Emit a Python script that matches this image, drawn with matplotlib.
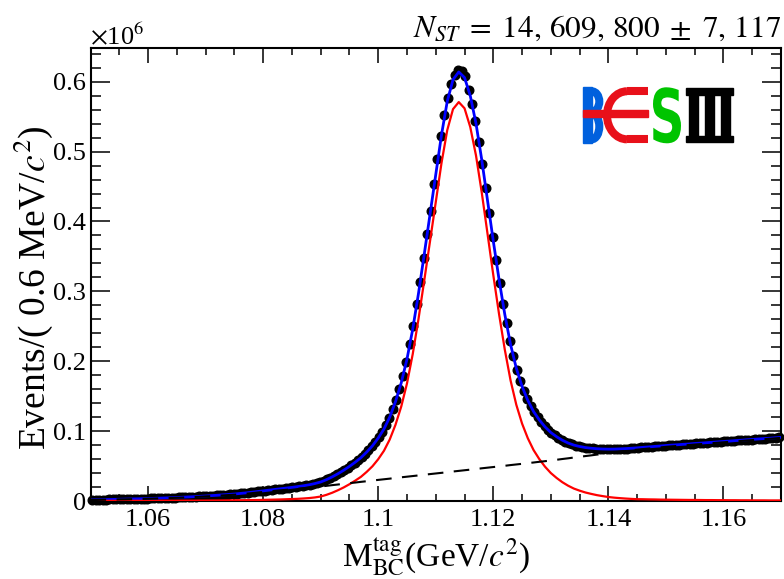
import numpy as np
import matplotlib
matplotlib.use('Agg')
import matplotlib.pyplot as plt
from matplotlib.patches import Rectangle, Arc, PathPatch
from matplotlib.textpath import TextPath
from matplotlib.font_manager import FontProperties
from matplotlib.transforms import Affine2D
from matplotlib.ticker import MultipleLocator, FormatStrFormatter

plt.rcParams['font.family'] = ['Liberation Serif', 'DejaVu Serif']
plt.rcParams['mathtext.fontset'] = 'stix'

# data: events per 0.6 MeV bin (units of 10^6), first bin centre 1.0503 GeV
events = [
    0.0016, 0.0017, 0.0018, 0.0019, 0.0020, 0.0022, 0.0023, 0.0024, 0.0025, 0.0026,
    0.0028, 0.0029, 0.0030, 0.0031, 0.0032, 0.0034, 0.0035, 0.0036, 0.0038, 0.0040,
    0.0042, 0.0044, 0.0046, 0.0047, 0.0049, 0.0051, 0.0054, 0.0056, 0.0058, 0.0061,
    0.0064, 0.0066, 0.0070, 0.0072, 0.0076, 0.0078, 0.0082, 0.0085, 0.0089, 0.0092,
    0.0096, 0.0099, 0.0104, 0.0109, 0.0114, 0.0119, 0.0124, 0.0130, 0.0136, 0.0142,
    0.0148, 0.0154, 0.0160, 0.0166, 0.0172, 0.0178, 0.0184, 0.0190, 0.0196, 0.0203,
    0.0210, 0.0217, 0.0225, 0.0234, 0.0245, 0.0257, 0.0270, 0.0288, 0.0309, 0.0333,
    0.0358, 0.0386, 0.0415, 0.0446, 0.0479, 0.0513, 0.0549, 0.0588, 0.0628, 0.0676,
    0.0727, 0.0781, 0.0845, 0.0913, 0.0991, 0.1081, 0.1183, 0.1310, 0.1447, 0.1609,
    0.1792, 0.1996, 0.2245, 0.2511, 0.2817, 0.3138, 0.3474, 0.3815, 0.4157, 0.4540,
    0.4890, 0.5220, 0.5520, 0.5770, 0.5970, 0.6100, 0.6170, 0.6150, 0.6080, 0.5878,
    0.5680, 0.5440, 0.5140, 0.4822, 0.4474, 0.4126, 0.3778, 0.3445, 0.3120, 0.2820,
    0.2541, 0.2283, 0.2070, 0.1874, 0.1718, 0.1580, 0.1460, 0.1360, 0.1268, 0.1196,
    0.1130, 0.1070, 0.1020, 0.0974, 0.0938, 0.0905, 0.0875, 0.0850, 0.0827, 0.0809,
    0.0794, 0.0782, 0.0773, 0.0764, 0.0758, 0.0753, 0.0749, 0.0746, 0.0744, 0.0743,
    0.0742, 0.0743, 0.0744, 0.0746, 0.0749, 0.0751, 0.0754, 0.0758, 0.0762, 0.0766,
    0.0770, 0.0773, 0.0777, 0.0782, 0.0785, 0.0789, 0.0793, 0.0797, 0.0800, 0.0803,
    0.0807, 0.0810, 0.0813, 0.0817, 0.0821, 0.0824, 0.0827, 0.0831, 0.0835, 0.0838,
    0.0842, 0.0845, 0.0849, 0.0852, 0.0856, 0.0859, 0.0863, 0.0866, 0.0870, 0.0874,
    0.0877, 0.0880, 0.0884, 0.0888, 0.0891, 0.0894, 0.0897, 0.0901, 0.0906, 0.0909,
]

# fit components (units of 10^6), 1 MeV steps from 1.050 to 1.170
signal = [
    0.0002, 0.0002, 0.0002, 0.0002, 0.0002, 0.0002, 0.0003, 0.0003, 0.0003, 0.0003,
    0.0003, 0.0003, 0.0004, 0.0004, 0.0004, 0.0004, 0.0005, 0.0005, 0.0005, 0.0006,
    0.0006, 0.0007, 0.0007, 0.0008, 0.0009, 0.0010, 0.0011, 0.0012, 0.0013, 0.0014,
    0.0016, 0.0018, 0.0020, 0.0022, 0.0025, 0.0028, 0.0031, 0.0036, 0.0042, 0.0051,
    0.0064, 0.0088, 0.0118, 0.0154, 0.0194, 0.0240, 0.0291, 0.0346, 0.0417, 0.0497,
    0.0598, 0.0719, 0.0880, 0.1090, 0.1351, 0.1682, 0.2103, 0.2604, 0.3154, 0.3715,
    0.4276, 0.4837, 0.5308, 0.5608, 0.5709, 0.5620, 0.5351, 0.4942, 0.4412, 0.3823,
    0.3234, 0.2675, 0.2166, 0.1726, 0.1377, 0.1108, 0.0898, 0.0729, 0.0599, 0.0490,
    0.0400, 0.0330, 0.0269, 0.0219, 0.0178, 0.0148, 0.0122, 0.0102, 0.0084, 0.0070,
    0.0057, 0.0048, 0.0041, 0.0035, 0.0030, 0.0026, 0.0025, 0.0023, 0.0022, 0.0020,
    0.0019, 0.0018, 0.0017, 0.0016, 0.0015, 0.0015, 0.0014, 0.0013, 0.0013, 0.0012,
    0.0012, 0.0011, 0.0011, 0.0010, 0.0010, 0.0009, 0.0009, 0.0009, 0.0008, 0.0008, 0.0008,
]
background = [
    0.0013, 0.0015, 0.0017, 0.0019, 0.0021, 0.0023, 0.0024, 0.0026, 0.0028, 0.0030,
    0.0032, 0.0035, 0.0037, 0.0040, 0.0043, 0.0046, 0.0049, 0.0053, 0.0057, 0.0061,
    0.0066, 0.0070, 0.0075, 0.0080, 0.0085, 0.0090, 0.0097, 0.0104, 0.0112, 0.0121,
    0.0129, 0.0137, 0.0145, 0.0153, 0.0160, 0.0167, 0.0175, 0.0182, 0.0190, 0.0199,
    0.0208, 0.0217, 0.0227, 0.0236, 0.0246, 0.0255, 0.0264, 0.0274, 0.0283, 0.0293,
    0.0302, 0.0311, 0.0320, 0.0330, 0.0339, 0.0348, 0.0357, 0.0366, 0.0376, 0.0385,
    0.0394, 0.0403, 0.0412, 0.0422, 0.0431, 0.0440, 0.0449, 0.0458, 0.0468, 0.0477,
    0.0486, 0.0495, 0.0504, 0.0514, 0.0523, 0.0532, 0.0542, 0.0551, 0.0561, 0.0570,
    0.0580, 0.0590, 0.0601, 0.0611, 0.0622, 0.0632, 0.0643, 0.0653, 0.0664, 0.0674,
    0.0685, 0.0695, 0.0705, 0.0715, 0.0725, 0.0735, 0.0743, 0.0751, 0.0759, 0.0767,
    0.0775, 0.0782, 0.0788, 0.0795, 0.0801, 0.0808, 0.0814, 0.0821, 0.0827, 0.0834,
    0.0840, 0.0846, 0.0853, 0.0859, 0.0866, 0.0872, 0.0878, 0.0884, 0.0890, 0.0897, 0.0903,
]

bins = 1.0503 + 0.0006 * np.arange(len(events))
mass = 1.050 + 0.001 * np.arange(len(signal))
signal = np.array(signal)
background = np.array(background)
total = signal + background

fig = plt.figure(figsize=(7.84, 5.79), dpi=100)
ax = fig.add_axes([90.5 / 784, 78 / 579, 690.5 / 784, 453.5 / 579])

ax.plot(bins, events, 'o', color='black', ms=6.2, clip_on=False, zorder=2)
ax.plot(mass, total, color='blue', lw=2.0, zorder=3)
ax.plot(mass, signal, color='red', lw=1.6, zorder=4)
ax.plot(mass, background, color='black', lw=1.5, ls=(0, (7.5, 5)), zorder=5)

ax.set_xlim(1.05, 1.17)
ax.set_ylim(0, 0.649)
ax.xaxis.set_major_locator(MultipleLocator(0.02))
ax.xaxis.set_minor_locator(MultipleLocator(0.005))
ax.yaxis.set_major_locator(MultipleLocator(0.1))
ax.yaxis.set_minor_locator(MultipleLocator(0.02))
ax.xaxis.set_major_formatter(FormatStrFormatter('%g'))
ax.yaxis.set_major_formatter(FormatStrFormatter('%g'))
ax.tick_params(which='both', direction='in', top=True, right=True, width=1.1, labelsize=19)
ax.tick_params(axis='y', which='major', length=14, pad=3)
ax.tick_params(axis='y', which='minor', length=7)
ax.tick_params(axis='x', which='major', length=11, pad=6)
ax.tick_params(axis='x', which='minor', length=5)
for s in ax.spines.values():
    s.set_linewidth(1.5)

ax.set_xlabel(r'M$_{\rm BC}^{\rm tag}$(GeV/$c^{2}$)', fontsize=24)
ax.xaxis.set_label_coords(0.5, -0.075)
ax.set_ylabel(r'Events/( 0.6 MeV/$c^{2}$)', fontsize=27)
ax.yaxis.set_label_coords(-0.052, 0.47)

fig.text(90.5 / 784, 1 - 44 / 579, r'$\times$10$^{6}$', fontsize=19, ha='left', va='baseline')
fig.text(781 / 784, 1 - 37 / 579, r'$N_{ST}\;=\;14,\,609,\,800\;\pm\;7,\,117$', fontsize=22.5,
         ha='right', va='baseline')

# BESIII logo, drawn in pixel units
lax = fig.add_axes([578 / 784, (579 - 146) / 579, 160 / 784, 66 / 579])
lax.set_xlim(0, 160)
lax.set_ylim(0, 66)
lax.axis('off')
blue_c, red_c, green_c = '#0060dd', '#e8101a', '#00c400'
lax.add_patch(Rectangle((5.3, 2.7), 8.4, 56, color=blue_c))
lax.add_patch(Arc((13.7, 44.5), 15.2, 20.4, theta1=-90, theta2=90, lw=5.8, color=blue_c))
lax.add_patch(Arc((13.7, 19.5), 15.2, 25.6, theta1=-90, theta2=90, lw=5.8, color=blue_c))
lax.add_patch(Arc((49, 30.7), 40, 48, theta1=90, theta2=270, lw=5.8, color=red_c))
lax.plot([49, 70], [54.7, 54.7], color=red_c, lw=5.8, solid_capstyle='butt')
lax.plot([49, 70], [6.7, 6.7], color=red_c, lw=5.8, solid_capstyle='butt')
lax.add_patch(Rectangle((5.3, 29), 64.7, 7, color=red_c))
tp = TextPath((0, 0), 'S', size=10, prop=FontProperties(family='DejaVu Sans', weight='bold'))
bb = tp.get_extents()
tr = Affine2D().translate(-bb.x0, -bb.y0).scale(28 / bb.width, 56 / bb.height).translate(75, 2.7)
lax.add_patch(PathPatch(tr.transform_path(tp), fc=green_c, ec='none'))
lax.add_patch(Rectangle((108, 51.5), 47, 6.2, color='black'))
lax.add_patch(Rectangle((108, 3.7), 47, 6.2, color='black'))
for x0 in (111, 127, 143):
    lax.add_patch(Rectangle((x0, 9.9), 9, 41.6, color='black'))

fig.savefig('out.png', dpi=100)
